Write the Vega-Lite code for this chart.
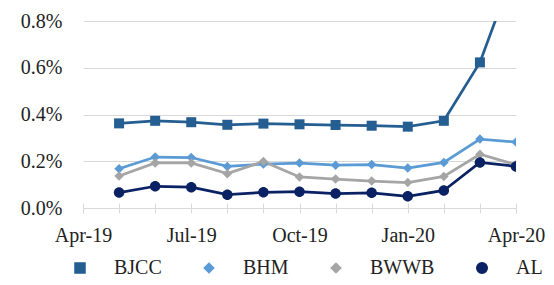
{
  "$schema": "https://vega.github.io/schema/vega-lite/v6.json",
  "width": 433,
  "height": 187,
  "autosize": {"type": "none"},
  "padding": {"left": 83, "top": 21, "right": 38, "bottom": 77},
  "config": {
    "view": {"stroke": null},
    "font": "Liberation Serif",
    "legend": {"labelFont": "Liberation Serif", "labelFontSize": 20, "labelColor": "#222222"}
  },
  "data": {
    "values": [
      {"m": 1, "s": "BJCC", "v": 0.00362}, {"m": 2, "s": "BJCC", "v": 0.00373}, {"m": 3, "s": "BJCC", "v": 0.00367},
      {"m": 4, "s": "BJCC", "v": 0.00356}, {"m": 5, "s": "BJCC", "v": 0.00361}, {"m": 6, "s": "BJCC", "v": 0.00358},
      {"m": 7, "s": "BJCC", "v": 0.00355}, {"m": 8, "s": "BJCC", "v": 0.00352}, {"m": 9, "s": "BJCC", "v": 0.00348},
      {"m": 10, "s": "BJCC", "v": 0.00373}, {"m": 11, "s": "BJCC", "v": 0.00623}, {"m": 12, "s": "BJCC", "v": 0.0104},
      {"m": 1, "s": "BHM", "v": 0.00168}, {"m": 2, "s": "BHM", "v": 0.00218}, {"m": 3, "s": "BHM", "v": 0.00216},
      {"m": 4, "s": "BHM", "v": 0.00178}, {"m": 5, "s": "BHM", "v": 0.00188}, {"m": 6, "s": "BHM", "v": 0.00192},
      {"m": 7, "s": "BHM", "v": 0.00183}, {"m": 8, "s": "BHM", "v": 0.00186}, {"m": 9, "s": "BHM", "v": 0.00171},
      {"m": 10, "s": "BHM", "v": 0.00195}, {"m": 11, "s": "BHM", "v": 0.00295}, {"m": 12, "s": "BHM", "v": 0.00282},
      {"m": 1, "s": "BWWB", "v": 0.00137}, {"m": 2, "s": "BWWB", "v": 0.00193}, {"m": 3, "s": "BWWB", "v": 0.00193},
      {"m": 4, "s": "BWWB", "v": 0.00147}, {"m": 5, "s": "BWWB", "v": 0.00199}, {"m": 6, "s": "BWWB", "v": 0.00133},
      {"m": 7, "s": "BWWB", "v": 0.00124}, {"m": 8, "s": "BWWB", "v": 0.00115}, {"m": 9, "s": "BWWB", "v": 0.00109},
      {"m": 10, "s": "BWWB", "v": 0.00135}, {"m": 11, "s": "BWWB", "v": 0.0023}, {"m": 12, "s": "BWWB", "v": 0.00185},
      {"m": 1, "s": "AL", "v": 0.00066}, {"m": 2, "s": "AL", "v": 0.00093}, {"m": 3, "s": "AL", "v": 0.00089},
      {"m": 4, "s": "AL", "v": 0.00057}, {"m": 5, "s": "AL", "v": 0.00067}, {"m": 6, "s": "AL", "v": 0.0007},
      {"m": 7, "s": "AL", "v": 0.00062}, {"m": 8, "s": "AL", "v": 0.00065}, {"m": 9, "s": "AL", "v": 0.0005},
      {"m": 10, "s": "AL", "v": 0.00075}, {"m": 11, "s": "AL", "v": 0.00195}, {"m": 12, "s": "AL", "v": 0.00178}
    ]
  },
  "encoding": {
    "x": {
      "field": "m", "type": "quantitative",
      "scale": {"domain": [0, 12], "nice": false, "zero": false},
      "axis": {
        "values": [0, 1, 2, 3, 4, 5, 6, 7, 8, 9, 10, 11, 12],
        "labelExpr": "datum.value % 3 === 0 ? ['Apr-19','Jul-19','Oct-19','Jan-20','Apr-20'][datum.value/3] : ''",
        "domain": false, "grid": false, "tickSize": 10, "tickColor": "#D9D9D9", "tickWidth": 1,
        "offset": -5, "labelFontSize": 20, "labelColor": "#222222", "labelPadding": 12,
        "labelFont": "Liberation Serif", "labelOverlap": false, "labelFlush": false, "title": null
      }
    },
    "y": {
      "field": "v", "type": "quantitative",
      "scale": {"domain": [0, 0.008], "nice": false},
      "axis": {
        "values": [0, 0.002, 0.004, 0.006, 0.008], "format": ".1%",
        "domain": false, "ticks": false, "tickSize": 0, "gridColor": "#D9D9D9", "gridWidth": 1,
        "labelFontSize": 20, "labelColor": "#222222", "labelPadding": 21, "labelFont": "Liberation Serif", "title": null
      }
    },
    "color": {
      "field": "s", "type": "nominal",
      "scale": {"domain": ["BJCC", "BHM", "BWWB", "AL"], "range": ["#255E91", "#5B9BD5", "#A5A5A5", "#0A2163"]},
      "legend": {
        "orient": "none", "direction": "horizontal", "title": null,
        "legendX": -13, "legendY": 237, "padding": 0,
        "symbolSize": 100, "symbolOpacity": 1,
        "labelFontSize": 20, "labelFont": "Liberation Serif", "labelColor": "#222222",
        "labelOffset": 24, "columnPadding": 37
      }
    }
  },
  "layer": [
    {"mark": {"type": "line", "strokeWidth": 2.75, "clip": true}},
    {
      "mark": {"type": "point", "filled": true, "opacity": 1, "size": 100, "clip": true},
      "encoding": {
        "shape": {
          "field": "s", "type": "nominal",
          "scale": {
            "domain": ["BJCC", "BHM", "BWWB", "AL"],
            "range": [
              "M-1,-1H1V1H-1Z",
              "M0,-0.95L0.95,0L0,0.95L-0.95,0Z",
              "M0,-0.95L0.95,0L0,0.95L-0.95,0Z",
              "M-1.05,0A1.05,1.05 0 1,0 1.05,0A1.05,1.05 0 1,0 -1.05,0Z"
            ]
          },
          "legend": {
            "orient": "none", "direction": "horizontal", "title": null,
            "legendX": -13, "legendY": 237, "padding": 0,
            "symbolSize": 100, "symbolOpacity": 1,
            "labelFontSize": 20, "labelFont": "Liberation Serif", "labelColor": "#222222",
            "labelOffset": 24, "columnPadding": 37
          }
        }
      }
    }
  ]
}
